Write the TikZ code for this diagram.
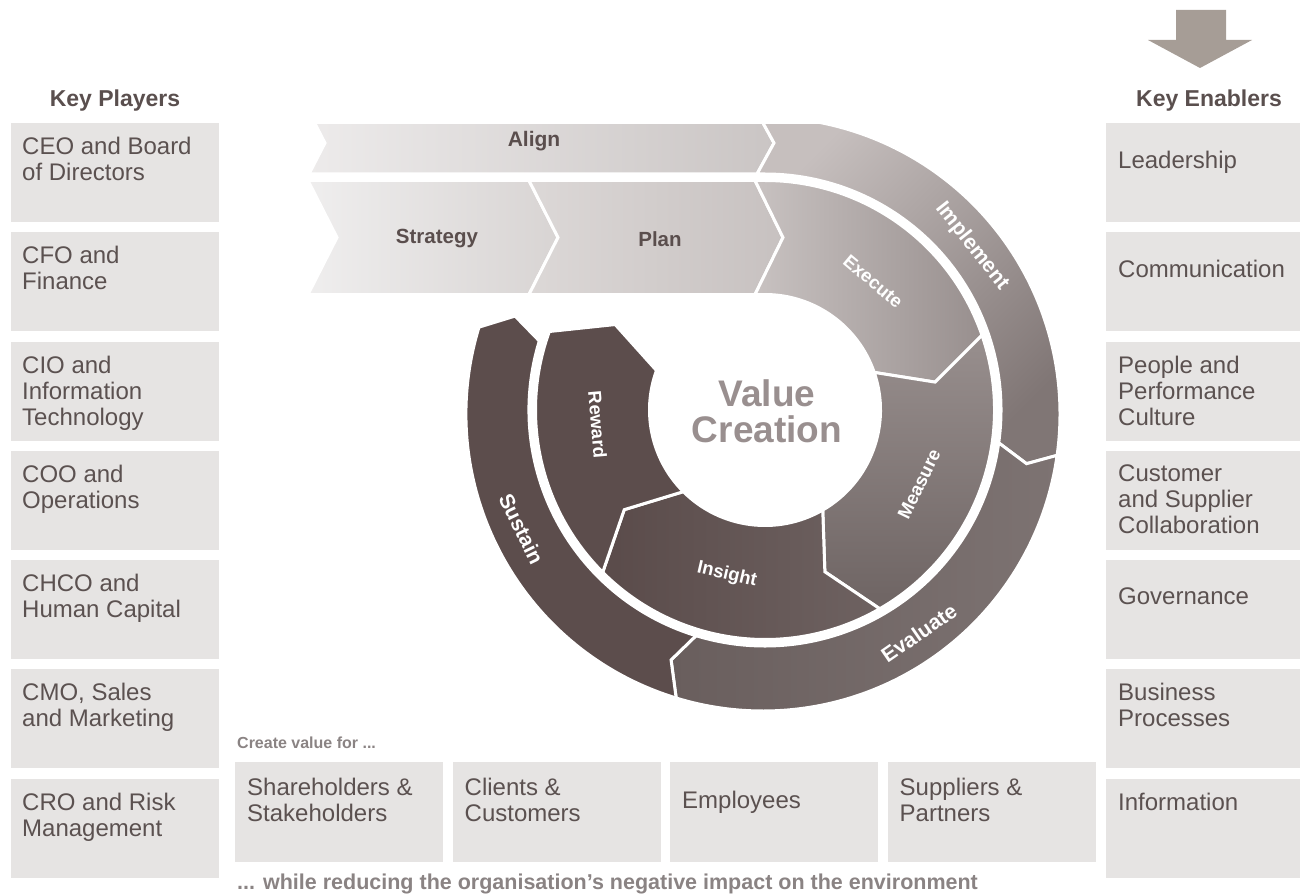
\documentclass[tikz,border=0pt]{standalone}
\usepackage{fontspec}
\setmainfont{Liberation Sans}
\usetikzlibrary{calc}
\definecolor{boxfill}{HTML}{E6E4E3}
\definecolor{txt}{HTML}{5B5150}
\definecolor{hdr}{HTML}{5A4F4E}
\definecolor{soft}{HTML}{8A8383}
\definecolor{vc}{HTML}{998F8F}
\definecolor{arrowc}{HTML}{A69D96}
\definecolor{darkseg}{HTML}{5C4D4C}
\definecolor{bandtxt}{HTML}{5A4E4D}
\def\rinA{115.5}\def\rinB{229.5}\def\rinM{172.5}
\def\routA{236}\def\routB{297}\def\routM{267}
\begin{document}
\begin{tikzpicture}[x=1pt,y=1pt,
  keybox/.style={fill=boxfill, draw=none, inner sep=0pt, outer sep=0pt, anchor=north west},
  sidebox/.style={keybox, minimum width=208pt, minimum height=99pt},
  rightbox/.style={keybox, minimum width=194pt, minimum height=99pt},
  lowbox/.style={keybox, minimum width=208pt, minimum height=100pt},
  boxtext/.style={anchor=north west, inner sep=0pt, align=left, text=txt, font=\fontsize{24}{26}\selectfont},
  header/.style={inner sep=0pt, anchor=base, text=hdr, font=\fontsize{23}{25}\selectfont\bfseries},
  softtext/.style={inner sep=0pt, anchor=base west, text=soft, font=\bfseries},
  seg/.style={draw=white, line width=3pt, line join=miter},
  bandlabel/.style={inner sep=0pt, text=bandtxt, font=\fontsize{20.5}{22}\selectfont\bfseries},
  outlabel/.style={inner sep=0pt, text=white, font=\fontsize{21}{22}\selectfont\bfseries},
  inlabel/.style={inner sep=0pt, text=white, font=\fontsize{18.5}{20}\selectfont\bfseries},
]
\useasboundingbox (0,0) rectangle (1300,-896);

% ---------- top-right arrow ----------
\path[fill=arrowc] (1176,-10) -- (1226,-10) -- (1226,-40) -- (1252,-40) -- (1200,-68) -- (1148,-40) -- (1176,-40) -- cycle;

% ---------- headers ----------
\node[header] (hp) at (115,-107) {Key Players};
\node[header] (he) at (1209,-107) {Key Enablers};

% ---------- left column ----------
\node[sidebox] (p1) at (11,-123) {};
\node[sidebox] (p2) at (11,-232) {};
\node[sidebox] (p3) at (11,-342) {};
\node[sidebox] (p4) at (11,-451) {};
\node[sidebox] (p5) at (11,-560) {};
\node[sidebox] (p6) at (11,-669) {};
\node[sidebox] (p7) at (11,-779) {};
\node[boxtext] (pt1) at (22,-137) {CEO and Board\\of Directors};
\node[boxtext] (pt2) at (22,-246) {CFO and\\Finance};
\node[boxtext] (pt3) at (22,-356) {CIO and\\Information\\Technology};
\node[boxtext] (pt4) at (22,-465) {COO and\\Operations};
\node[boxtext] (pt5) at (22,-574) {CHCO and\\Human Capital};
\node[boxtext] (pt6) at (22,-683) {CMO, Sales\\and Marketing};
\node[boxtext] (pt7) at (22,-793) {CRO and Risk\\Management};

% ---------- right column ----------
\node[rightbox] (e1) at (1106,-123) {};
\node[rightbox] (e2) at (1106,-232) {};
\node[rightbox] (e3) at (1106,-342) {};
\node[rightbox] (e4) at (1106,-451) {};
\node[rightbox] (e5) at (1106,-560) {};
\node[rightbox] (e6) at (1106,-669) {};
\node[rightbox] (e7) at (1106,-779) {};
\node[boxtext] (et1) at (1118,-150.5) {Leadership};
\node[boxtext] (et2) at (1118,-259.5) {Communication};
\node[boxtext] (et3) at (1118,-356) {People and\\Performance\\Culture};
\node[boxtext] (et4) at (1118,-465) {Customer\\and Supplier\\Collaboration};
\node[boxtext] (et5) at (1118,-587.5) {Governance};
\node[boxtext] (et6) at (1118,-683) {Business\\Processes};
\node[boxtext] (et7) at (1118,-793) {Information};

% ---------- bottom row ----------
\node[softtext, font=\fontsize{16}{18}\selectfont\bfseries] (cv) at (237,-748) {Create value for ...};
\node[lowbox] (b1) at (235,-762) {};
\node[lowbox] (b2) at (452.5,-762) {};
\node[lowbox] (b3) at (670,-762) {};
\node[lowbox] (b4) at (887.5,-762) {};
\node[boxtext] (bt1) at (247,-777.5) {Shareholders \&\\Stakeholders};
\node[boxtext] (bt2) at (464.5,-777.5) {Clients \&\\Customers};
\node[boxtext] (bt3) at (682,-790.5) {Employees};
\node[boxtext] (bt4) at (899.5,-777.5) {Suppliers \&\\Partners};
\node[softtext, font=\fontsize{21.5}{23}\selectfont\bfseries] (wr) at (237,-889) {... while reducing the organisation’s negative impact on the environment};

% ---------- wheel ----------
\coordinate (C) at (765,-410);
\coordinate (D) at (763,-414);

% inner track
\path[seg, left color={rgb,255:red,239;green,238;blue,238}, right color={rgb,255:red,216;green,212;blue,211}]
  (308,-180.5) -- (529,-180.5) -- (558,-237.5) -- (529,-294.5) -- (308,-294.5) -- (337,-237.5) -- cycle;
\path[seg, left color={rgb,255:red,220;green,216;blue,215}, right color={rgb,255:red,199;green,193;blue,192}]
  (529,-180.5) -- (755,-180.5) -- (783,-237.5) -- (755,-294.5) -- (529,-294.5) -- (558,-237.5) -- cycle;
\path[seg, left color={rgb,255:red,200;green,194;blue,193}, right color={rgb,255:red,152;green,143;blue,142}]
  (755,-180.5) -- (765,-180.5) arc[start angle=90, end angle=19, radius=\rinB pt]
  -- ($(C)+(9.3:\rinM pt)$) -- ($(C)+(19:\rinA pt)$)
  arc[start angle=19, end angle=90, radius=\rinA pt]
  -- (755,-294.5) -- (783,-237.5) -- cycle;
\path[seg, top color={rgb,255:red,152;green,143;blue,142}, bottom color={rgb,255:red,110;green,100;blue,99}]
  ($(C)+(19:\rinB pt)$) arc[start angle=19, end angle=-60, radius=\rinB pt]
  -- ($(C)+(-69.7:\rinM pt)$) -- ($(C)+(-60:\rinA pt)$)
  arc[start angle=-60, end angle=19, radius=\rinA pt]
  -- ($(C)+(9.3:\rinM pt)$) -- cycle;
\path[seg, left color={rgb,255:red,90;green,75;blue,74}, right color={rgb,255:red,110;green,98;blue,97}]
  ($(C)+(-60:\rinB pt)$) arc[start angle=-60, end angle=-135, radius=\rinB pt]
  -- ($(C)+(-144.7:\rinM pt)$) -- ($(C)+(-135:\rinA pt)$)
  arc[start angle=-135, end angle=-60, radius=\rinA pt]
  -- ($(C)+(-69.7:\rinM pt)$) -- cycle;
\path[seg, fill=darkseg]
  ($(C)+(-135:\rinB pt)$) arc[start angle=-135, end angle=-200, radius=\rinB pt]
  -- ($(C)+(-209.7:\rinM pt)$) -- ($(C)+(-200:\rinA pt)$)
  arc[start angle=-200, end angle=-135, radius=\rinA pt]
  -- ($(C)+(-144.7:\rinM pt)$) -- cycle;

% outer track (clipped at the top of the Align band)
\begin{scope}
\clip (0,-125) rectangle (1300,-896);
\path[seg, left color={rgb,255:red,237;green,235;blue,235}, right color={rgb,255:red,202;green,197;blue,196}]
  (309,-112) -- (757,-112) -- (774,-143) -- (757,-174) -- (309,-174) -- (325,-143) -- cycle;
\path[seg, top color={rgb,255:red,198;green,191;blue,190}, bottom color={rgb,255:red,128;green,118;blue,117}, shading angle=45]
  (757,-112) -- (763,-112) -- ($(D)+(90:\routB pt)$) arc[start angle=90, end angle=-8, radius=\routB pt]
  -- ($(C)+(-11.6:\routM pt)$) -- ($(C)+(-8:\routA pt)$)
  arc[start angle=-8, end angle=90, radius=\routA pt]
  -- (757,-174) -- (774,-143) -- cycle;
\path[seg, left color={rgb,255:red,105;green,94;blue,93}, right color={rgb,255:red,125;green,115;blue,114}]
  ($(D)+(-8:\routB pt)$) arc[start angle=-8, end angle=-107, radius=\routB pt]
  -- ($(C)+(-110.6:\routM pt)$) -- ($(C)+(-107:\routA pt)$)
  arc[start angle=-107, end angle=-8, radius=\routA pt]
  -- ($(C)+(-11.6:\routM pt)$) -- cycle;
\path[seg, fill=darkseg]
  ($(D)+(-107:\routB pt)$) arc[start angle=-107, end angle=-197, radius=\routB pt]
  -- ($(C)+(-200.6:\routM pt)$) -- ($(C)+(-197:\routA pt)$)
  arc[start angle=-197, end angle=-107, radius=\routA pt]
  -- ($(C)+(-110.6:\routM pt)$) -- cycle;
\end{scope}

% labels
\node[bandlabel, font=\fontsize{21}{22}\selectfont\bfseries] (lalign) at (534,-141) {Align};
\node[bandlabel] (lstrat) at (437,-239) {Strategy};
\node[bandlabel] (lplan) at (660,-239) {Plan};
\node[outlabel, rotate=-51.6] (limpl) at ($(C)+(38.4:264pt)$) {Implement};
\node[outlabel, rotate=34.6] (leval) at ($(C)+(-55.4:271pt)$) {Evaluate};
\node[outlabel, rotate=-64] (lsust) at ($(C)+(206:271pt)$) {Sustain};
\node[inlabel, rotate=-40] (lexec) at ($(C)+(50:168pt)$) {Execute};
\node[inlabel, rotate=64] (lmeas) at ($(C)+(-25.7:171pt)$) {Measure};
\node[inlabel, rotate=-13] (linsi) at ($(C)+(-103:169pt)$) {Insight};
\node[inlabel, rotate=-85] (lrew) at ($(C)+(185:168pt)$) {Reward};

\node[align=center, inner sep=0pt, text=vc, font=\fontsize{37}{36}\selectfont\bfseries] (vcr) at (767,-411.5) {Value\\Creation};
\end{tikzpicture}
\end{document}
